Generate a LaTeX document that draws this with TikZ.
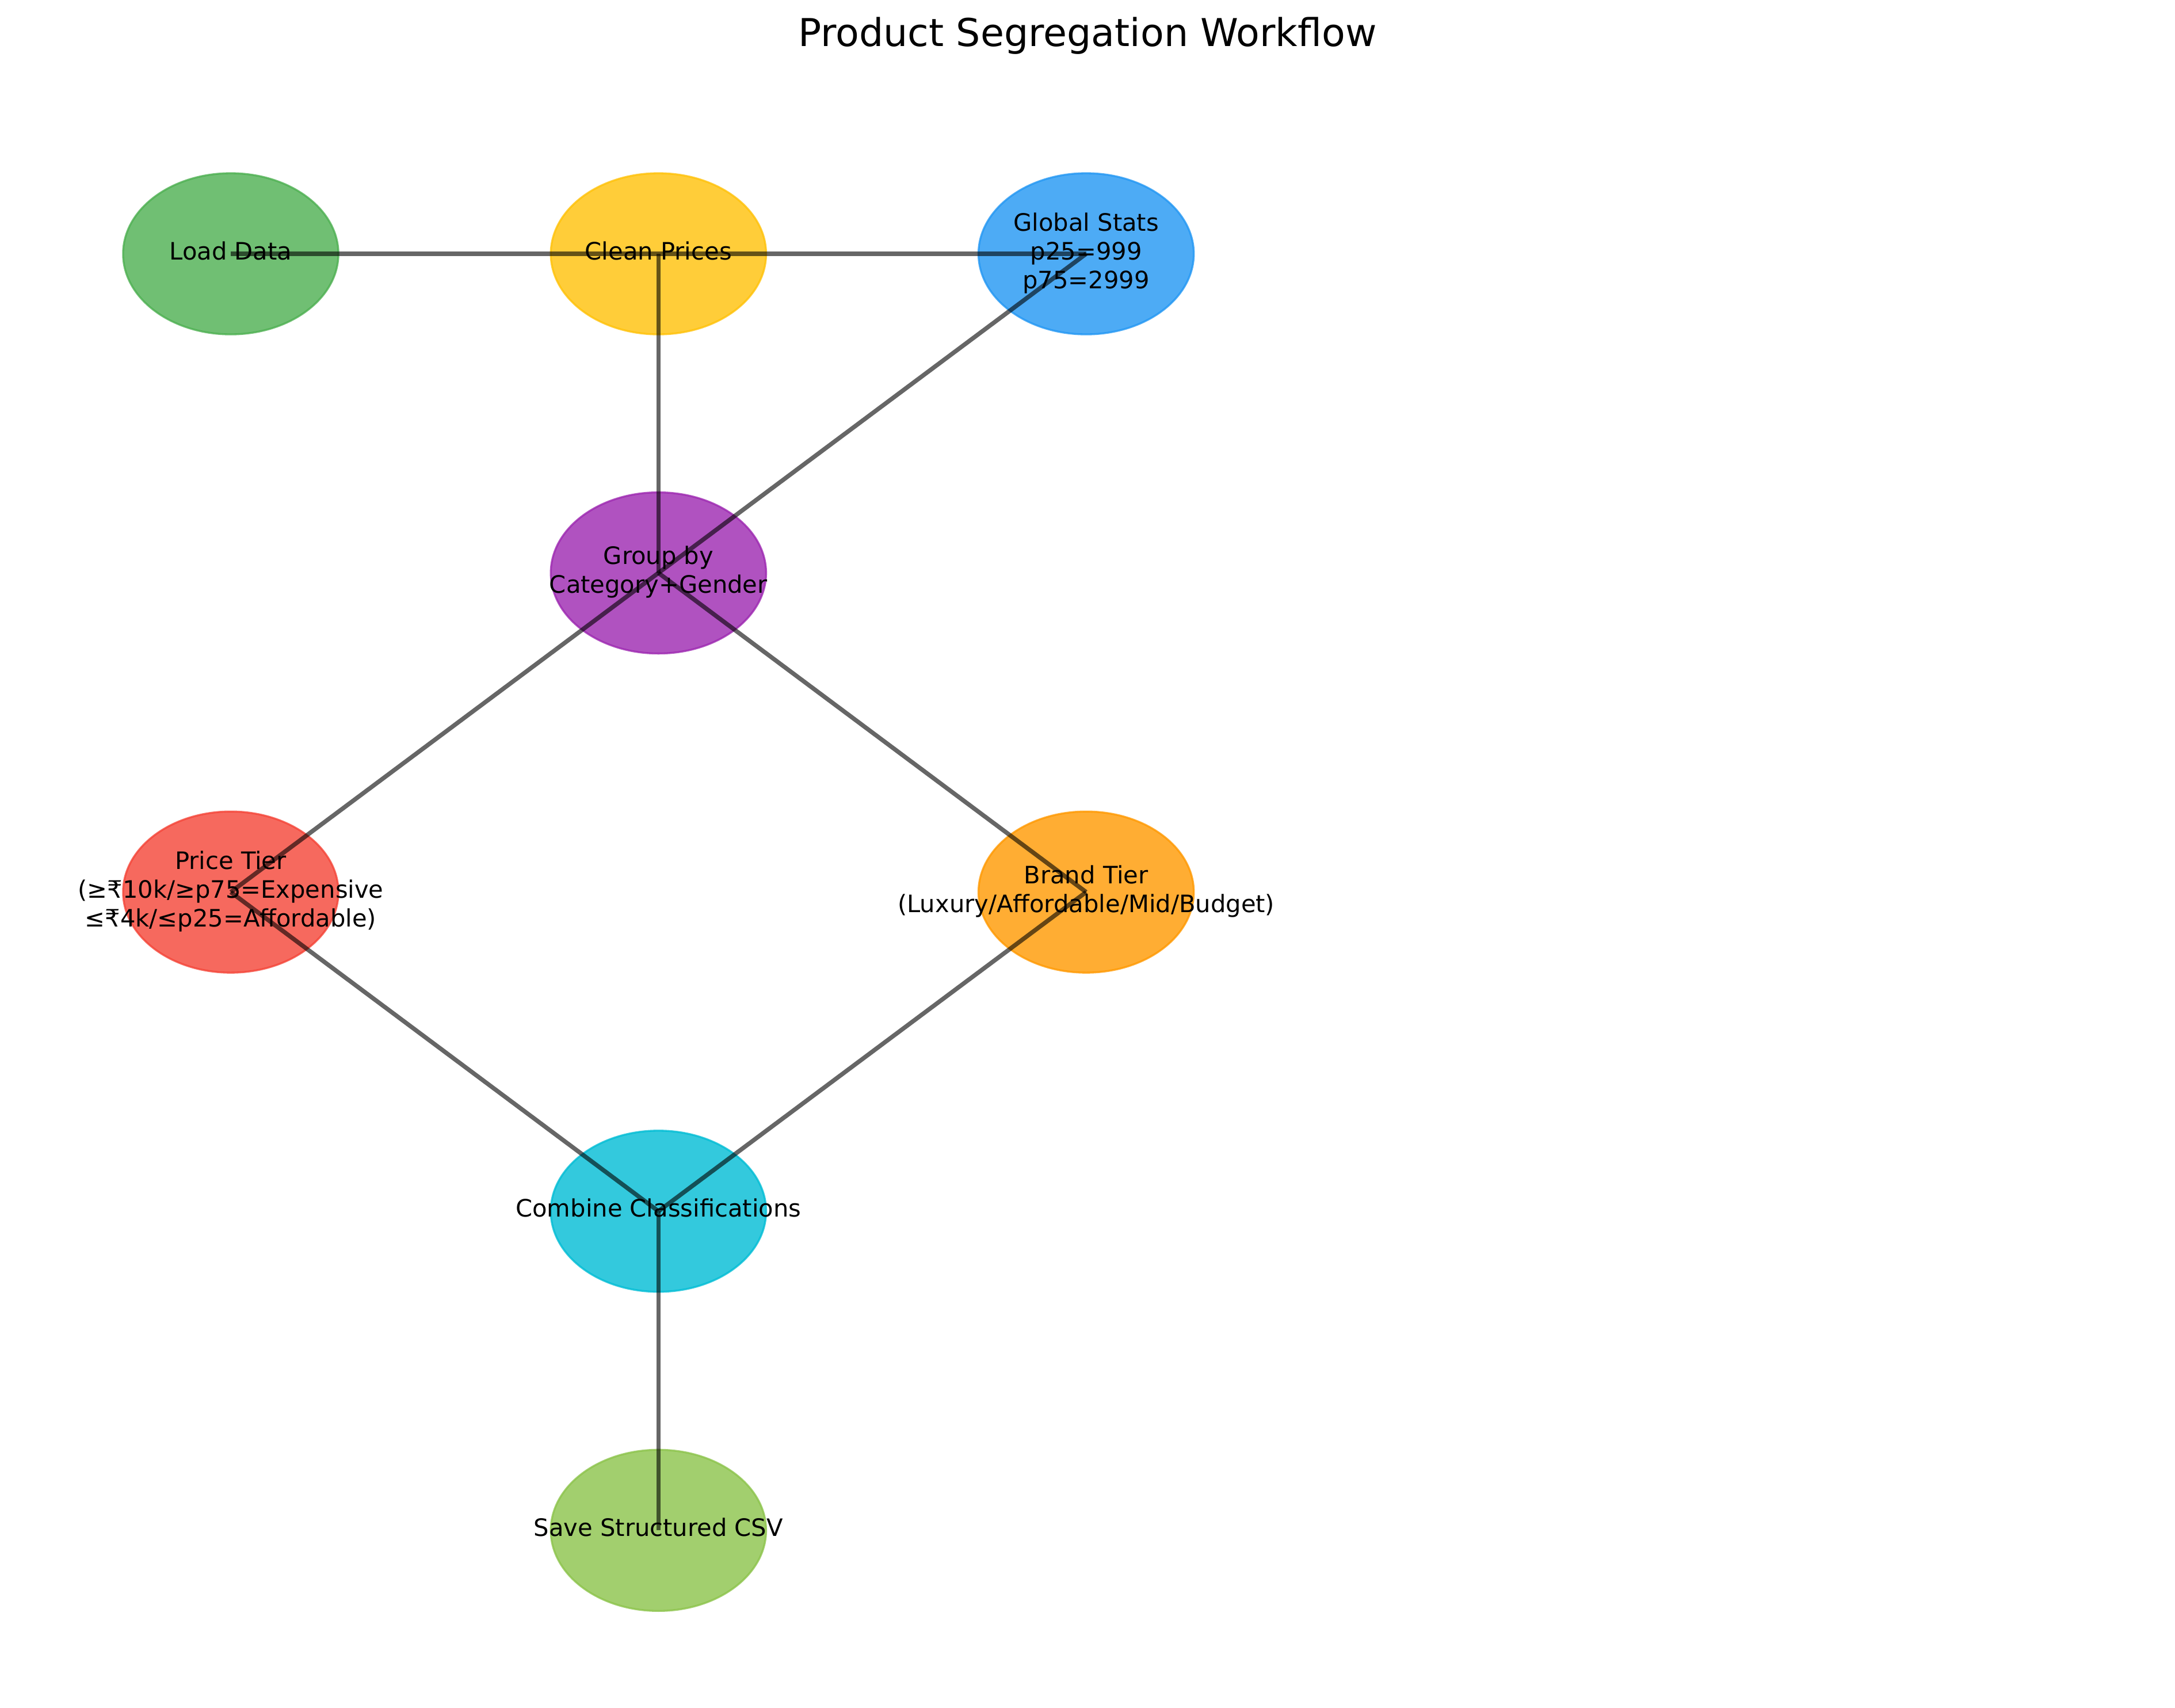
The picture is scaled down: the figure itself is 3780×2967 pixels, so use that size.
\documentclass[tikz,border=0pt]{standalone}
\usepackage{fontspec}
\setmainfont{DejaVu Sans}
\usepackage{tikz}
\usetikzlibrary{shapes.geometric}
\usetikzlibrary{positioning}

\definecolor{loadgreen}{HTML}{4CAF50}
\definecolor{cleanamber}{HTML}{FFC107}
\definecolor{statsblue}{HTML}{2196F3}
\definecolor{grouppurple}{HTML}{9C27B0}
\definecolor{pricered}{HTML}{F44336}
\definecolor{brandorange}{HTML}{FF9800}
\definecolor{combinecyan}{HTML}{00BCD4}
\definecolor{savegreen}{HTML}{8BC34A}

% zero-width centred block so the ellipse keeps its size
\newcommand{\stagetext}[1]{\makebox[0pt]{\begin{tabular}{@{}c@{}}#1\end{tabular}}}

\begin{document}
\begin{tikzpicture}[x=0.24pt,y=-0.24pt,
  stage node/.style={ellipse,minimum width=89.8pt,minimum height=67.2pt,inner sep=0pt,outer sep=0pt,
    draw=#1,fill=#1,draw opacity=0.8,fill opacity=0.8,text opacity=1,line width=0.8pt,
    font=\fontsize{10}{12}\selectfont},
  link/.style={draw=black,draw opacity=0.6,line width=1.8pt}]

  \useasboundingbox (0,0) rectangle (3780,2967);

  \node (title) at (1890,80) [anchor=base,font=\fontsize{16}{19}\selectfont] {Product Segregation Workflow};

  \node[stage node=loadgreen] (load) at (401,441) {\stagetext{Load Data}};
  \node[stage node=cleanamber] (clean) [right=88.6pt of load] {\stagetext{Clean Prices}};
  \node[stage node=statsblue] (stats) [right=88.6pt of clean] {\stagetext{Global Stats\\p25=999\\p75=2999}};
  \node[stage node=grouppurple] (group) [below=65.9pt of clean] {\stagetext{Group by\\Category+Gender}};
  \node[stage node=pricered] (price) [below=199pt of load] {\stagetext{Price Tier\\(≥₹10k/≥p75=Expensive\\≤₹4k/≤p25=Affordable)}};
  \node[stage node=brandorange] (brand) [below=199pt of stats] {\stagetext{Brand Tier\\(Luxury/Affordable/Mid/Budget)}};
  \node[stage node=combinecyan] (combine) [below=199pt of group] {\stagetext{Combine Classifications}};
  \node[stage node=savegreen] (save) [below=65.9pt of combine] {\stagetext{Save Structured CSV}};

  \path[link]
    (load.center) edge (clean.center)
    (clean.center) edge (stats.center)
    (clean.center) edge (group.center)
    (stats.center) edge (group.center)
    (group.center) edge (price.center)
    (group.center) edge (brand.center)
    (price.center) edge (combine.center)
    (brand.center) edge (combine.center)
    (combine.center) edge (save.center);
\end{tikzpicture}
\end{document}
